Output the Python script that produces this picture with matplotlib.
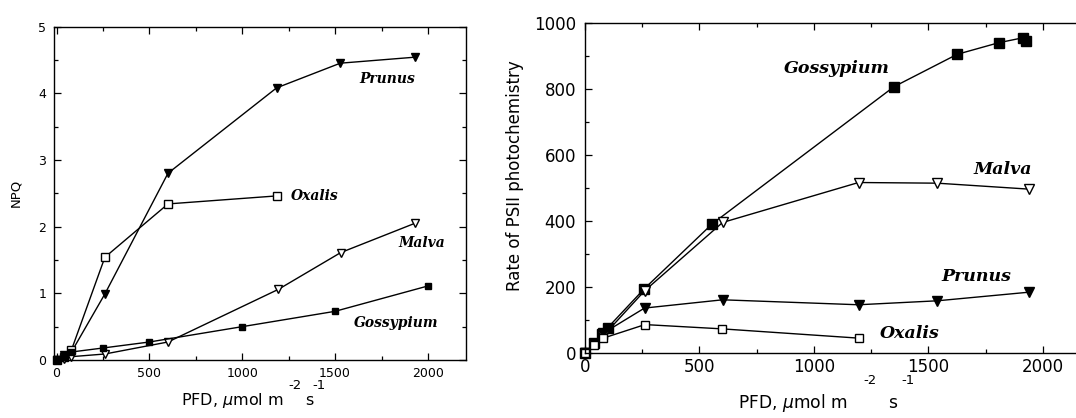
import matplotlib
matplotlib.use("Agg")
import matplotlib.pyplot as plt
from matplotlib.ticker import MultipleLocator

plt.rcParams['font.family'] = ['DejaVu Sans']
plt.rcParams['mathtext.fontset'] = 'dejavusans'

# ---- Left panel: NPQ ----
npq_prunus_x = [0, 40, 80, 260, 600, 1185, 1528, 1930]
npq_prunus_y = [0, 0.07, 0.12, 0.99, 2.80, 4.08, 4.45, 4.54]
npq_oxalis_x = [0, 40, 80, 260, 600, 1185]
npq_oxalis_y = [0, 0.05, 0.15, 1.54, 2.34, 2.46]
npq_malva_x = [0, 40, 80, 260, 600, 1195, 1530, 1930]
npq_malva_y = [0, 0.02, 0.05, 0.09, 0.27, 1.06, 1.61, 2.05]
npq_goss_x = [0, 40, 80, 250, 500, 1000, 1500, 2000]
npq_goss_y = [0, 0.05, 0.12, 0.18, 0.27, 0.50, 0.73, 1.11]

# ---- Right panel: rate of PSII photochemistry ----
ps_goss_x = [0, 40, 75, 100, 257, 556, 1350, 1626, 1807, 1913, 1925]
ps_goss_y = [0, 30, 57, 77, 193, 391, 806, 904, 939, 954, 944]
ps_malva_x = [0, 40, 80, 260, 601, 1195, 1539, 1939]
ps_malva_y = [0, 28, 52, 188, 395, 516, 514, 496]
ps_prunus_x = [0, 40, 80, 260, 601, 1195, 1539, 1939]
ps_prunus_y = [0, 28, 60, 136, 161, 146, 158, 184]
ps_oxalis_x = [0, 40, 80, 262, 600, 1195]
ps_oxalis_y = [0, 25, 45, 86, 73, 45]

species = ['Prunus', 'Oxalis', 'Malva', 'Gossypium']

fig = plt.figure(figsize=(10.76, 4.18), dpi=100)
W, H = 1076, 418

def px_axes(l, t, r, b):
    return fig.add_axes([l / W, 1 - b / H, (r - l) / W, (b - t) / H])

def ftext(x, y, s, size):
    fig.text(x / W, 1 - y / H, s, ha='left', va='baseline', fontsize=size)

ax1 = px_axes(54, 26.5, 466, 360)
ax2 = px_axes(585, 22.6, 1100, 353)

def style(ax, fs, xpad, ypad):
    ax.tick_params(which='both', direction='in', top=True, right=True,
                   labelsize=fs, width=0.9)
    ax.tick_params(axis='x', which='both', pad=xpad)
    ax.tick_params(axis='y', which='both', pad=ypad)
    ax.tick_params(which='major', length=5)
    ax.tick_params(which='minor', length=3)
    for s in ax.spines.values():
        s.set_linewidth(1.0)

line_kw = dict(color='black', lw=1.0, clip_on=False)
lab_font = dict(family=['DejaVu Serif'], style='italic', weight='bold')

# Left
ms = 5.5
ax1.plot(npq_prunus_x, npq_prunus_y, marker='v', ms=ms+0.5, mfc='black', mec='black', **line_kw)
ax1.plot(npq_oxalis_x, npq_oxalis_y, marker='s', ms=ms, mfc='white', mec='black', **line_kw)
ax1.plot(npq_malva_x, npq_malva_y, marker='v', ms=ms+0.5, mfc='white', mec='black', **line_kw)
ax1.plot(npq_goss_x, npq_goss_y, marker='s', ms=ms-0.5, mfc='black', mec='black', **line_kw)
ax1.set_xlim(-14, 2205)
ax1.set_ylim(0, 5)
ax1.xaxis.set_major_locator(MultipleLocator(500))
ax1.xaxis.set_minor_locator(MultipleLocator(250))
ax1.yaxis.set_major_locator(MultipleLocator(1))
ax1.yaxis.set_minor_locator(MultipleLocator(0.5))
style(ax1, 9, 5, 5.5)
ax1.set_ylabel('NPQ', fontsize=9.5)
ax1.yaxis.set_label_coords(-0.078, 0.5)
ax1.text(1783, 4.21, species[0], ha='center', va='center', fontsize=10, **lab_font)
ax1.text(1391, 2.46, species[1], ha='center', va='center', fontsize=10, **lab_font)
ax1.text(1966, 1.75, species[2], ha='center', va='center', fontsize=10, **lab_font)
ax1.text(1831, 0.55, species[3], ha='center', va='center', fontsize=10, **lab_font)

# left x label, built from pieces (superscripts raised as in the original)
ftext(180.7, 405, r'PFD, $\mu$mol m', 11.5)
ftext(288, 389, '-2', 9.5)
ftext(305, 405, 's', 11.5)
ftext(312, 389, '-1', 9.5)

# Right
ms2 = 7
ax2.plot(ps_goss_x, ps_goss_y, marker='s', ms=ms2, mfc='black', mec='black', **line_kw)
ax2.plot(ps_malva_x, ps_malva_y, marker='v', ms=ms2, mfc='white', mec='black', **line_kw)
ax2.plot(ps_prunus_x, ps_prunus_y, marker='v', ms=ms2, mfc='black', mec='black', **line_kw)
ax2.plot(ps_oxalis_x, ps_oxalis_y, marker='s', ms=ms2-1, mfc='white', mec='black', **line_kw)
ax2.set_xlim(0, 2250)
ax2.set_ylim(0, 1000)
ax2.xaxis.set_major_locator(MultipleLocator(500))
ax2.xaxis.set_minor_locator(MultipleLocator(250))
ax2.yaxis.set_major_locator(MultipleLocator(200))
ax2.yaxis.set_minor_locator(MultipleLocator(100))
style(ax2, 12, 3.5, 6.5)
ax2.set_ylabel('Rate of PSII photochemistry', fontsize=12)
ax2.yaxis.set_label_coords(-0.118, 0.536)
ax2.text(1102, 861, species[3], ha='center', va='center', fontsize=12.5, **lab_font)
ax2.text(1823, 556, species[2], ha='center', va='center', fontsize=12.5, **lab_font)
ax2.text(1711, 231, species[0], ha='center', va='center', fontsize=12.5, **lab_font)
ax2.text(1417, 60, species[1], ha='center', va='center', fontsize=12.5, **lab_font)

ftext(738, 408.3, r'PFD, $\mu$mol m', 12.3)
ftext(863, 384, '-2', 9.5)
ftext(888, 408.3, 's', 12.3)
ftext(901, 384, '-1', 9.5)

fig.savefig('out.png', dpi=100)
